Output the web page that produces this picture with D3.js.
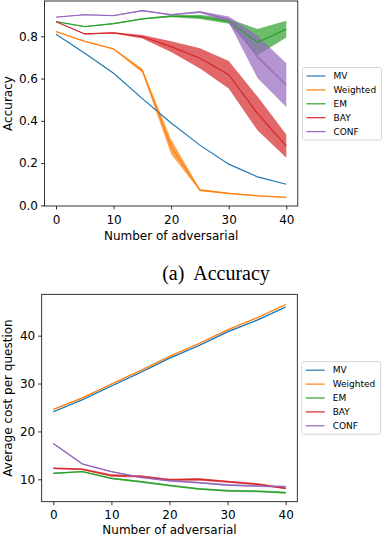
<!DOCTYPE html>
<html>
<head>
<meta charset="utf-8">
<script src="https://cdn.jsdelivr.net/npm/d3@7"></script>
<style>
  body { margin: 0; background: #fff; }
  svg { display: block; }
</style>
</head>
<body>
<div id="chart"></div>
<script>
// data
const adversarial = [0, 5, 10, 15, 20, 25, 30, 35, 40];
const methods = ["MV", "Weighted", "EM", "BAY", "CONF"];
const colors = ["#1f77b4", "#ff7f0e", "#2ca02c", "#d62728", "#9467bd"];

const accMV       = [0.81, 0.72, 0.625, 0.505, 0.39, 0.285, 0.195, 0.135, 0.10];
const accWeighted = [0.822, 0.776, 0.74, 0.637, 0.277, 0.072, 0.057, 0.045, 0.038];
const accEM       = [0.869, 0.846, 0.86, 0.882, 0.895, 0.892, 0.871, 0.772, 0.834];
const accBAY      = [0.869, 0.811, 0.816, 0.798, 0.751, 0.696, 0.618, 0.435, 0.28];
const accCONF     = [0.891, 0.902, 0.898, 0.921, 0.902, 0.915, 0.88, 0.703, 0.569];

// half width of the shaded band
const accSpreadMV       = [0, 0, 0, 0, 0, 0, 0, 0, 0];
const accSpreadWeighted = [0, 0.002, 0.003, 0.01, 0.035, 0.005, 0.003, 0.002, 0.002];
const accSpreadEM       = [0, 0.002, 0.003, 0.003, 0.005, 0.01, 0.012, 0.062, 0.04];
const accSpreadBAY      = [0, 0.002, 0.003, 0.008, 0.025, 0.048, 0.065, 0.08, 0.055];
const accSpreadCONF     = [0, 0.002, 0.002, 0.003, 0.004, 0.005, 0.014, 0.1, 0.104];

const costMV       = [24.1, 26.6, 29.5, 32.3, 35.3, 37.9, 40.8, 43.2, 46.0];
const costWeighted = [24.6, 27.0, 29.9, 32.7, 35.7, 38.3, 41.2, 43.7, 46.5];
const costEM       = [11.25, 11.6, 10.2, 9.5, 8.7, 8.0, 7.6, 7.5, 7.2];
const costBAY      = [12.3, 12.1, 10.8, 10.6, 9.9, 10.0, 9.5, 9.0, 8.1];
const costCONF     = [17.5, 13.2, 11.6, 10.4, 9.7, 9.3, 8.8, 8.6, 8.45];

const costSpreadMV       = [0.1, 0.1, 0.1, 0.1, 0.1, 0.1, 0.1, 0.1, 0.1];
const costSpreadWeighted = [0.1, 0.1, 0.1, 0.1, 0.1, 0.1, 0.1, 0.1, 0.1];
const costSpreadEM       = [0.15, 0.15, 0.2, 0.2, 0.2, 0.2, 0.2, 0.2, 0.2];
const costSpreadBAY      = [0.15, 0.2, 0.25, 0.25, 0.2, 0.25, 0.2, 0.2, 0.2];
const costSpreadCONF     = [0.15, 0.15, 0.15, 0.15, 0.2, 0.2, 0.2, 0.2, 0.2];

const xTicks = [0, 10, 20, 30, 40];
const accTicks = [0.0, 0.2, 0.4, 0.6, 0.8];
const costTicks = [10, 20, 30, 40];

const sans = "DejaVu Sans, sans-serif";
const width = 384, height = 537;
const svg = d3.select("#chart").append("svg")
    .attr("width", width)
    .attr("height", height);

function drawPanel(opts) {
    const g = svg.append("g");
    const x = d3.scaleLinear().domain([-2, 42]).range([opts.left, opts.right]);
    const y = d3.scaleLinear().domain(opts.yDomain).range([opts.bottom, opts.top]);

    const series = methods.map((m, i) => ({
        name: m, color: colors[i], values: opts.values[i], spread: opts.spreads[i]
    }));

    const area = d3.area()
        .x((d, i) => x(adversarial[i]))
        .y0(d => y(d[0] - d[1]))
        .y1(d => y(d[0] + d[1]));
    const line = d3.line()
        .x((d, i) => x(adversarial[i]))
        .y(d => y(d));

    series.forEach(s => {
        g.append("path")
            .attr("d", area(s.values.map((v, i) => [v, s.spread[i]])))
            .attr("fill", s.color)
            .attr("fill-opacity", 0.7)
            .attr("stroke", "none");
    });
    series.forEach(s => {
        g.append("path")
            .attr("d", line(s.values))
            .attr("fill", "none")
            .attr("stroke", s.color)
            .attr("stroke-width", 1.2);
    });

    // axes
    const xAxis = g.append("g")
        .attr("transform", "translate(0," + opts.bottom + ")")
        .call(d3.axisBottom(x).tickValues(xTicks).tickSize(3.5).tickPadding(5.5));
    const yAxis = g.append("g")
        .attr("transform", "translate(" + opts.left + ",0)")
        .call(d3.axisLeft(y).tickValues(opts.yTicks).tickFormat(opts.yFormat).tickSize(3.5).tickPadding(3));
    [xAxis, yAxis].forEach(a => {
        a.select(".domain").remove();
        a.selectAll("text").attr("font-size", 12).attr("fill", "#000")
            .attr("font-family", sans);
        a.selectAll("line").attr("stroke", "#000").attr("stroke-width", 0.8);
    });

    g.append("rect")
        .attr("x", opts.left).attr("y", opts.top)
        .attr("width", opts.right - opts.left)
        .attr("height", opts.bottom - opts.top)
        .attr("fill", "none")
        .attr("stroke", "#000")
        .attr("stroke-width", 0.8);

    g.append("text")
        .attr("x", (opts.left + opts.right) / 2)
        .attr("y", opts.bottom + opts.xLabelGap)
        .attr("text-anchor", "middle")
        .attr("font-family", sans)
        .attr("font-size", 12)
        .text("Number of adversarial");

    g.append("text")
        .attr("transform", "translate(12," + ((opts.top + opts.bottom) / 2) + ") rotate(-90)")
        .attr("text-anchor", "middle")
        .attr("font-family", sans)
        .attr("font-size", 12)
        .text(opts.yLabel);

    // legend
    const lg = g.append("g").attr("transform", "translate(" + opts.legendX + "," + opts.legendY + ")");
    lg.append("rect")
        .attr("width", 79).attr("height", 72.5)
        .attr("rx", 2)
        .attr("fill", "#fff")
        .attr("stroke", "#ccc")
        .attr("stroke-width", 0.8);
    series.forEach((s, i) => {
        const yy = 8.5 + i * 13.9;
        lg.append("line")
            .attr("x1", 4).attr("x2", 23)
            .attr("y1", yy).attr("y2", yy)
            .attr("stroke", s.color)
            .attr("stroke-width", 1.2);
        lg.append("text")
            .attr("x", 31).attr("y", yy)
            .attr("dy", "0.35em")
            .attr("font-family", sans)
            .attr("font-size", 9)
            .text(s.name);
    });
}

drawPanel({
    left: 44.5, right: 297.8, top: 1, bottom: 206,
    yDomain: [-0.003, 0.967],
    yTicks: accTicks,
    yFormat: d3.format(".1f"),
    yLabel: "Accuracy",
    xLabelGap: 34,
    values: [accMV, accWeighted, accEM, accBAY, accCONF],
    spreads: [accSpreadMV, accSpreadWeighted, accSpreadEM, accSpreadBAY, accSpreadCONF],
    legendX: 302.5, legendY: 67.5
});

svg.append("text")
    .attr("x", 216)
    .attr("y", 280)
    .attr("text-anchor", "middle")
    .attr("font-family", "Liberation Serif, serif")
    .attr("font-size", 20)
    .attr("fill", "#000")
    .attr("xml:space", "preserve")
    .text("(a)  Accuracy");

drawPanel({
    left: 41.7, right: 297.3, top: 294.3, bottom: 501.7,
    yDomain: [5.32, 48.64],
    yTicks: costTicks,
    yFormat: d3.format("d"),
    yLabel: "Average cost per question",
    xLabelGap: 32,
    values: [costMV, costWeighted, costEM, costBAY, costCONF],
    spreads: [costSpreadMV, costSpreadWeighted, costSpreadEM, costSpreadBAY, costSpreadCONF],
    legendX: 301.7, legendY: 361.7
});
</script>
</body>
</html>
